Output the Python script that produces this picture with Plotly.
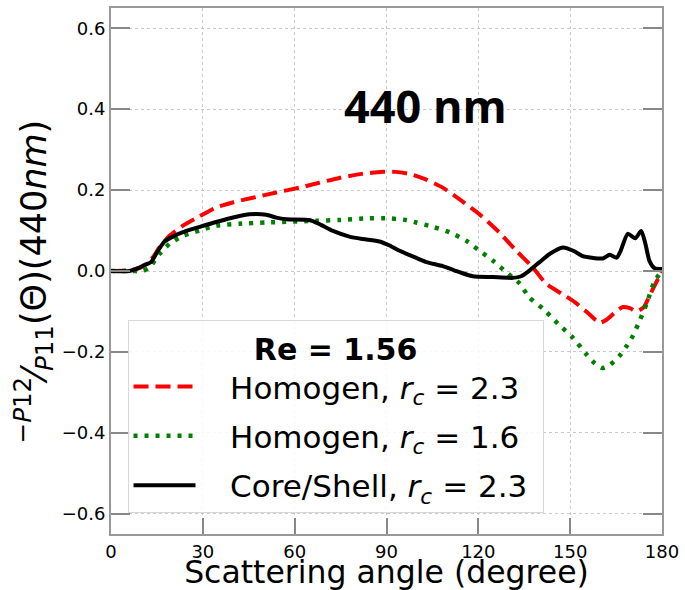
import plotly.graph_objects as go

# ---- data ----
red_x = [0, 7.1, 10.4, 13.7, 15.8, 19.1, 23.5, 28.9, 34.4, 40, 46.3, 54, 61.6, 68, 74.6, 82, 88.8, 93, 97.5, 103, 108.4,
         113.9, 120.4, 126.9, 132.4, 137.8, 142.2, 147, 151.5, 156, 159.6, 162, 165, 167.2, 169.5, 171.6, 174, 176, 178, 180]
red_y = [0, 0.003, 0.011, 0.034, 0.058, 0.087, 0.112, 0.135, 0.157, 0.170, 0.181, 0.194, 0.206, 0.218, 0.230, 0.240, 0.245,
         0.245, 0.240, 0.226, 0.206, 0.177, 0.140, 0.095, 0.050, 0.009, -0.032, -0.055, -0.077, -0.105, -0.128, -0.120,
         -0.100, -0.089, -0.092, -0.100, -0.090, -0.060, -0.030, 0]

green_x = [0, 7.1, 10.4, 12.6, 15.8, 19.1, 23.5, 28.9, 34.4, 42, 50.7, 67, 74.6, 83.4, 91, 96.4, 99.7, 105.1, 110.6, 116,
           120.4, 124.7, 129.1, 133.5, 136.7, 141.1, 146, 150.9, 155.2, 158, 160.5, 163, 166.1, 168.5, 170.5, 172.7, 175,
           177.6, 180]
green_y = [0, 0, 0, 0.009, 0.042, 0.067, 0.087, 0.100, 0.112, 0.117, 0.120, 0.124, 0.126, 0.130, 0.130, 0.126, 0.120,
           0.109, 0.096, 0.075, 0.050, 0.026, -0.003, -0.031, -0.066, -0.093, -0.130, -0.165, -0.205, -0.228, -0.240,
           -0.232, -0.210, -0.185, -0.160, -0.123, -0.080, -0.025, 0]

black_x = [0, 6, 8.2, 10.4, 13.1, 15.3, 17.5, 20.2, 24.6, 28.9, 37.6, 45.2, 50.7, 54, 57.2, 64.8, 68.1, 72.5, 77.9, 82.3,
           87.7, 91, 94.3, 98.6, 103, 108.4, 113.9, 118.2, 124.7, 131.3, 134, 136.7, 140, 143.3, 147.6, 151, 154.1, 157,
           160.7, 162.9, 165.2, 166.5, 168.8, 171.3, 173.2, 174.5, 175.9, 177.6, 180]
black_y = [0, 0, 0.005, 0.013, 0.022, 0.050, 0.073, 0.085, 0.099, 0.109, 0.128, 0.140, 0.139, 0.132, 0.128, 0.126, 0.116,
           0.099, 0.085, 0.079, 0.073, 0.063, 0.050, 0.036, 0.022, 0.012, -0.003, -0.013, -0.015, -0.017, -0.013, 0.001,
           0.022, 0.042, 0.058, 0.050, 0.037, 0.033, 0.031, 0.040, 0.033, 0.050, 0.092, 0.081, 0.099, 0.070, 0.025,
           0.007, 0.005]

x_ticks = [0, 30, 60, 90, 120, 150, 180]
y_ticks = [-0.6, -0.4, -0.2, 0.0, 0.2, 0.4, 0.6]
y_tick_text = ["\u22120.6", "\u22120.4", "\u22120.2", "0.0", "0.2", "0.4", "0.6"]

pad = "\u00a0\u00a0\u00a0"
tail = "\u00a0"
names = [pad + "Homogen, <i>r</i><sub><i>c</i></sub> = 2.3" + tail,
         pad + "Homogen, <i>r</i><sub><i>c</i></sub> = 1.6" + tail,
         pad + "Core/Shell, <i>r</i><sub><i>c</i></sub> = 2.3" + tail]

fig = go.Figure()
fig.add_trace(go.Scatter(x=red_x, y=red_y, mode="lines", name=names[0], legendgroup="a",
                         line=dict(color="red", width=4, dash="15px,7px", shape="spline", smoothing=0.6)))
fig.add_trace(go.Scatter(x=green_x, y=green_y, mode="lines", name=names[1], legendgroup="b",
                         line=dict(color="green", width=4.5, dash="4px,7px", shape="spline", smoothing=0.6)))
fig.add_trace(go.Scatter(x=black_x, y=black_y, mode="lines", name=names[2], legendgroup="c",
                         line=dict(color="black", width=4, shape="spline", smoothing=0.6)))

fig.update_layout(
    width=685, height=590,
    margin=dict(l=111, r=22, t=6, b=56),
    plot_bgcolor="white", paper_bgcolor="white",
    font=dict(family="DejaVu Sans", color="black"),
    showlegend=True,
    legend=dict(
        x=0.03, y=0.407, xanchor="left", yanchor="top",
        bgcolor="rgba(255,255,255,0.85)", bordercolor="#d8d8d8", borderwidth=1,
        font=dict(size=31, family="DejaVu Sans"),
        title=dict(text="<b>Re = 1.56</b>", side="top center", font=dict(size=30, family="DejaVu Sans")),
        itemwidth=62, tracegroupgap=6,
    ),
    xaxis=dict(
        range=[0, 180], tickvals=x_ticks, ticktext=[str(v) for v in x_ticks],
        showline=True, linecolor="#999999", linewidth=2, mirror=True,
        ticks="inside", ticklen=16, tickwidth=2, tickcolor="#888888",
        showgrid=True, gridcolor="#c8c8c8", griddash="dot", gridwidth=1,
        zeroline=False, tickfont=dict(size=18),
        title=dict(text="Scattering angle (degree)", font=dict(size=31.5), standoff=0),
    ),
    yaxis=dict(
        range=[-0.65, 0.65], tickvals=y_ticks, ticktext=y_tick_text,
        showline=True, linecolor="#999999", linewidth=2, mirror="ticks",
        ticks="inside", ticklen=19, tickwidth=2, tickcolor="#888888",
        showgrid=True, gridcolor="#c8c8c8", griddash="dot", gridwidth=1,
        zeroline=False, tickfont=dict(size=18),
    ),
    annotations=[
        dict(text="<b>440 nm</b>", x=102.7, y=0.41, xref="x", yref="y", showarrow=False,
             font=dict(size=45, family="Open Sans", color="black"), xanchor="center", yanchor="middle"),
        dict(text="<sup><i>\u2212P</i>12</sup>\u2044<sub><i>P</i>11</sub>(\u0398)(440<i>nm</i>)",
             x=-0.14, y=0.48, xref="paper", yref="paper", showarrow=False, textangle=-90,
             font=dict(size=35, family="DejaVu Sans", color="black"), xanchor="center", yanchor="middle"),
    ],
)

fig.write_html("out.html", config={"displayModeBar": False},
               post_script="document.body.style.margin='0';document.body.style.padding='0';")
